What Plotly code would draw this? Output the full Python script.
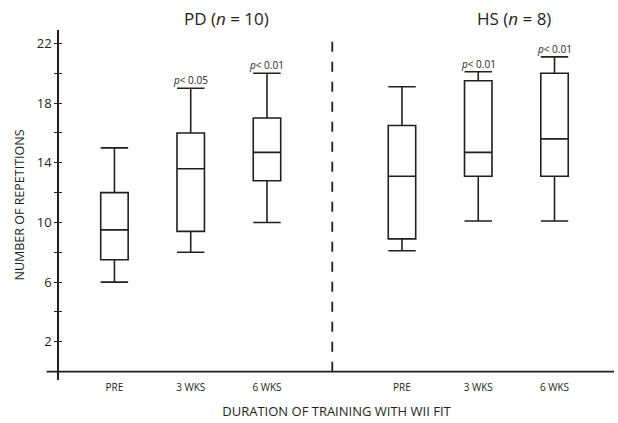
import plotly.graph_objects as go

# Repetitions per session, summarised as box statistics
groups = ["PD (<i>n</i> = 10)", "HS (<i>n</i> = 8)"]
timepoints = ["PRE", "3 WKS", "6 WKS"]

pd_low = [6.0, 8.0, 10.0]
pd_q1 = [7.5, 9.4, 12.8]
pd_median = [9.5, 13.6, 14.7]
pd_q3 = [12.0, 16.0, 17.0]
pd_high = [15.0, 19.0, 20.0]
pd_pvalues = [None, "0.05", "0.01"]

hs_low = [8.1, 10.1, 10.1]
hs_q1 = [8.9, 13.1, 13.1]
hs_median = [13.1, 14.7, 15.6]
hs_q3 = [16.5, 19.5, 20.0]
hs_high = [19.1, 20.1, 21.1]
hs_pvalues = [None, "0.01", "0.01"]

y_ticks = [2, 4, 6, 8, 10, 12, 14, 16, 18, 20, 22]
y_labels = ["2", "", "6", "", "10", "", "14", "", "18", "", "22"]

INK = "#231f20"
FONT = "Open Sans"
GROUP_START = [1.0, 4.77]

series = [
    (pd_low, pd_q1, pd_median, pd_q3, pd_high, pd_pvalues),
    (hs_low, hs_q1, hs_median, hs_q3, hs_high, hs_pvalues),
]

fig = go.Figure()
tickvals, ticktext = [], []
annotations = []

for g, (low, q1, med, q3, high, pv) in enumerate(series):
    xs = [GROUP_START[g] + i for i in range(len(timepoints))]
    tickvals += xs
    ticktext += timepoints
    fig.add_trace(go.Box(
        x=xs, lowerfence=low, q1=q1, median=med, q3=q3, upperfence=high,
        width=0.36, whiskerwidth=1,
        fillcolor="rgba(0,0,0,0)",
        line=dict(color=INK, width=1.6),
        boxpoints=False, hoverinfo="skip", showlegend=False,
    ))
    for x, h, p in zip(xs, high, pv):
        if p:
            annotations.append(dict(
                x=x, y=h, xref="x", yref="y", yanchor="bottom", yshift=-1,
                text=f"<i>p</i>< {p}", showarrow=False,
                font=dict(family=FONT, size=10, color=INK),
            ))
    # group heading, placed above the plotting area
    annotations.append(dict(
        x=xs[1] + 0.47, y=1 + (30 - 18) / 350, xref="x", yref="paper",
        yanchor="middle", text=groups[g], showarrow=False,
        font=dict(family=FONT, size=17, color=INK),
    ))

# group divider
divider_x = GROUP_START[0] + len(timepoints) - 1 + 0.856
fig.add_shape(type="line", x0=divider_x, x1=divider_x, y0=0, y1=22.75,
              xref="x", yref="y",
              line=dict(color=INK, width=1.8, dash="10px,10px"))
# horizontal axis line at zero, extending slightly left of the y axis
fig.add_shape(type="line", x0=-0.0225, x1=1, y0=0, y1=0,
              xref="paper", yref="y", line=dict(color=INK, width=1.6))

fig.update_layout(
    width=618, height=423,
    margin=dict(l=59, r=4, t=30, b=43),
    paper_bgcolor="white", plot_bgcolor="white",
    font=dict(family=FONT, color=INK),
    annotations=annotations,
    xaxis=dict(
        range=[0.273, 7.55], showgrid=False, zeroline=False, showline=False,
        tickmode="array", tickvals=tickvals, ticktext=ticktext,
        ticks="", tickfont=dict(size=10, family=FONT, color=INK),
        title=dict(text="DURATION OF TRAINING WITH WII FIT",
                   font=dict(size=13, family=FONT, color=INK), standoff=13),
    ),
    yaxis=dict(
        range=[-0.56, 22.9], showgrid=False, zeroline=False,
        showline=True, linecolor=INK, linewidth=1.6,
        tickmode="array", tickvals=y_ticks, ticktext=y_labels,
        ticks="outside", ticklen=3, tickwidth=1.4, tickcolor=INK,
        tickfont=dict(size=13, family=FONT, color=INK),
        title=dict(text="NUMBER OF REPETITIONS",
                   font=dict(size=12.5, family=FONT, color=INK), standoff=9),
    ),
    yaxis2=dict(
        range=[-0.56, 22.9], overlaying="y", side="left", showgrid=False,
        zeroline=False, showline=False, tickmode="array", tickvals=y_ticks,
        ticks="inside", ticklen=3, tickwidth=1.4, tickcolor=INK,
        showticklabels=False,
    ),
)
# invisible trace so the inner tick axis is drawn
fig.add_trace(go.Scatter(x=[None], y=[None], yaxis="y2", showlegend=False,
                         hoverinfo="skip"))

fig.write_html("out.html")
